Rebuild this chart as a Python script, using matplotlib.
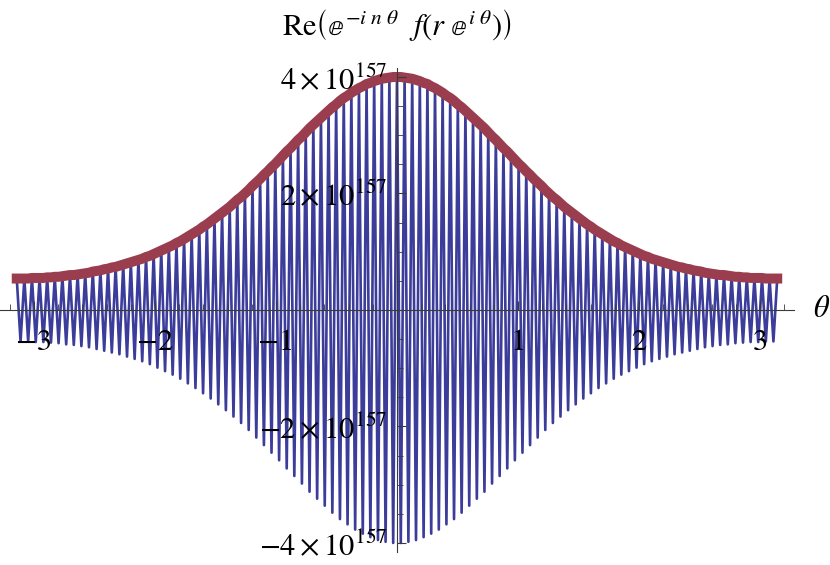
import numpy as np
import matplotlib
matplotlib.use("Agg")
import matplotlib.pyplot as plt
from matplotlib.ticker import MultipleLocator

plt.rcParams['font.family'] = 'STIXGeneral'
plt.rcParams['mathtext.fontset'] = 'stix'

# height of every half-period peak (units of 10^157)
# theta from -pi up to (not incl.) 0
peaks_left = [0.54, 0.54, 0.54, 0.54, 0.55, 0.55, 0.55, 0.55, 0.56, 0.56,
              0.57, 0.57, 0.58, 0.59, 0.60, 0.60, 0.61, 0.62, 0.63, 0.64,
              0.66, 0.67, 0.68, 0.70, 0.71, 0.73, 0.74, 0.76, 0.78, 0.80,
              0.82, 0.84, 0.86, 0.88, 0.91, 0.93, 0.96, 0.99, 1.02, 1.05,
              1.08, 1.11, 1.15, 1.18, 1.22, 1.26, 1.30, 1.34, 1.38, 1.43,
              1.47, 1.52, 1.57, 1.62, 1.67, 1.72, 1.77, 1.83, 1.89, 1.94,
              2.00, 2.06, 2.13, 2.19, 2.25, 2.32, 2.38, 2.45, 2.51, 2.58,
              2.65, 2.72, 2.78, 2.85, 2.92, 2.98, 3.05, 3.12, 3.18, 3.24,
              3.30, 3.36, 3.42, 3.48, 3.53, 3.59, 3.64, 3.68, 3.73, 3.77,
              3.81, 3.84, 3.88, 3.90, 3.93, 3.95, 3.97, 3.98, 3.99, 4.00]
# theta from 0 to pi
peaks_right = [4.00, 4.00, 3.99, 3.98, 3.97, 3.95, 3.93, 3.90, 3.88, 3.84,
               3.81, 3.77, 3.73, 3.68, 3.64, 3.59, 3.53, 3.48, 3.42, 3.36,
               3.30, 3.24, 3.18, 3.12, 3.05, 2.98, 2.92, 2.85, 2.78, 2.72,
               2.65, 2.58, 2.51, 2.45, 2.38, 2.32, 2.25, 2.19, 2.13, 2.06,
               2.00, 1.94, 1.89, 1.83, 1.77, 1.72, 1.67, 1.62, 1.57, 1.52,
               1.47, 1.43, 1.38, 1.34, 1.30, 1.26, 1.22, 1.18, 1.15, 1.11,
               1.08, 1.05, 1.02, 0.99, 0.96, 0.93, 0.91, 0.88, 0.86, 0.84,
               0.82, 0.80, 0.78, 0.76, 0.74, 0.73, 0.71, 0.70, 0.68, 0.67,
               0.66, 0.64, 0.63, 0.62, 0.61, 0.60, 0.60, 0.59, 0.58, 0.57,
               0.57, 0.56, 0.56, 0.55, 0.55, 0.55, 0.55, 0.54, 0.54, 0.54,
               0.54]

xticks = [-3, -2, -1, 1, 2, 3]
xlabels = ['−3', '−2', '−1', '1', '2', '3']
yticks = [-4, -2, 2, 4]
ylabels = [r'$-4\times10^{157}$', r'$-2\times10^{157}$',
           r'$2\times10^{157}$', r'$4\times10^{157}$']

peaks = np.array(peaks_left + peaks_right)
theta = np.linspace(-np.pi, np.pi, len(peaks))
signs = np.where(np.arange(len(peaks)) % 2 == 0, 1, -1)

fig = plt.figure(figsize=(8.3, 5.65), dpi=100)
ax = fig.add_axes([0.0, 0.0225, 0.9566, 0.8577])
ax.set_axisbelow(False)

ax.plot(theta, peaks * signs, color='#3c3c9a', lw=1.9, zorder=2)
ax.plot(theta, peaks, color='#9a3d4e', lw=7.2, solid_capstyle='projecting', zorder=2.1)

ax.set_xlim(-3.28, 3.28)
ax.set_ylim(-4.16, 4.16)

for s in ['top', 'right']:
    ax.spines[s].set_visible(False)
for s in ['left', 'bottom']:
    ax.spines[s].set_position(('data', 0))
    ax.spines[s].set_color('#3a3a3a')
    ax.spines[s].set_linewidth(0.8)

ax.set_xticks(xticks, xlabels)
ax.set_yticks(yticks, ylabels)
ax.xaxis.set_minor_locator(MultipleLocator(0.2))
ax.yaxis.set_minor_locator(MultipleLocator(0.5))
ax.tick_params(which='major', direction='in', length=6.5, width=0.8, color='#3a3a3a', labelsize=22)
ax.tick_params(which='minor', direction='in', length=4, width=0.6, color='#3a3a3a')
ax.tick_params(axis='x', which='major', pad=14)
ax.tick_params(axis='y', which='major', pad=7)

ax.text(3.51, 0, r'$\theta$', fontsize=22, ha='center', va='center', clip_on=False)
fig.text(0.478, 0.955,
         r'$\mathrm{Re}\left(ⅇ^{-i\ n\ \theta}\ \ f\left(r\ ⅇ^{i\ \theta}\right)\right)$',
         fontsize=22, ha='center', va='center')

fig.savefig('out.png', dpi=100)
